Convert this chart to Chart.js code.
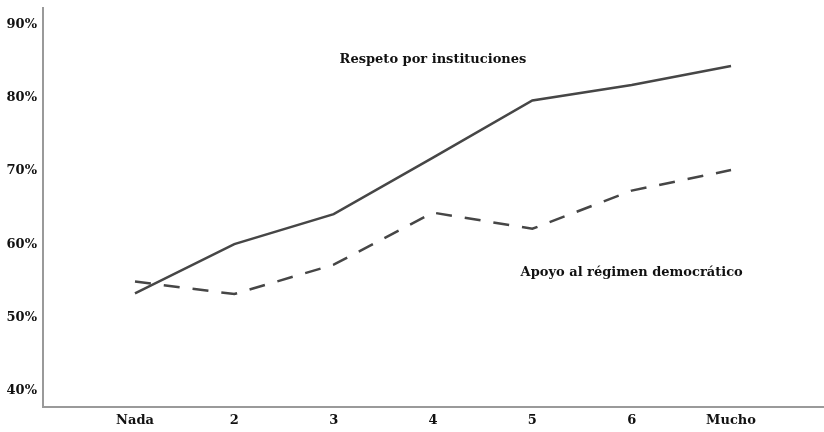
<!DOCTYPE html>
<html>
<head>
<meta charset="utf-8">
<script src="https://cdn.jsdelivr.net/npm/chart.js@4/dist/chart.umd.min.js"></script>
<style>
  html, body { margin: 0; padding: 0; background: #fff; }
  #wrap { width: 824px; height: 432px; position: relative; }
</style>
</head>
<body>
<div id="wrap"><canvas id="myChart"></canvas></div>
<script>
const ctx = document.getElementById('myChart').getContext('2d');

// Categories on the x-axis
const labels = ['Nada', '2', '3', '4', '5', '6', 'Mucho'];

// Percent values
const respeto = [53.3, 60.0, 64.1, 71.8, 79.6, 81.7, 84.3];
const apoyo = [54.9, 53.2, 57.2, 64.3, 62.1, 67.3, 70.1];

// Y tick labels
const yTicks = [40, 50, 60, 70, 80, 90];

const serif = '"DejaVu Serif", serif';
const lineColor = '#464646';

// Text labels next to the lines, placed in data units
const notes = [
    { text: 'Respeto por instituciones', x: 3.0, y: 85.2 },
    { text: 'Apoyo al régimen democrático', x: 5.0, y: 56.1 }
];

const notePlugin = {
    id: 'notes',
    afterDatasetsDraw(chart) {
        const c = chart.ctx;
        const xs = chart.scales.x, ys = chart.scales.y;
        c.save();
        c.font = 'bold 13px ' + serif;
        c.fillStyle = '#111';
        c.textAlign = 'center';
        c.textBaseline = 'middle';
        notes.forEach(n => c.fillText(n.text, xs.getPixelForValue(n.x), ys.getPixelForValue(n.y)));
        c.restore();
    }
};

const data = {
    datasets: [{
        label: 'Respeto por instituciones',
        data: respeto.map((v, i) => ({ x: i, y: v })),
        borderColor: lineColor,
        borderWidth: 2.5,
        pointRadius: 0,
        fill: false,
        tension: 0
    }, {
        label: 'Apoyo al régimen democrático',
        data: apoyo.map((v, i) => ({ x: i, y: v })),
        borderColor: lineColor,
        borderWidth: 2.5,
        borderDash: [16, 13],
        pointRadius: 0,
        fill: false,
        tension: 0
    }]
};

const options = {
    responsive: true,
    maintainAspectRatio: false,
    animation: false,
    layout: { padding: { top: 8, right: 0, left: 0, bottom: 0 } },
    plugins: {
        legend: { display: false },
        tooltip: { enabled: false }
    },
    scales: {
        x: {
            type: 'linear',
            min: -0.926,
            max: 6.936,
            grid: { display: false, drawTicks: false },
            border: { display: true, color: '#9a9a9a', width: 2 },
            afterBuildTicks: s => { s.ticks = labels.map((_, i) => ({ value: i })); },
            afterFit: s => { s.height = 25; s.paddingLeft = 0; s.paddingRight = 0; },
            ticks: {
                callback: v => labels[v],
                color: '#111',
                font: { family: serif, size: 13, weight: 'bold' },
                padding: 6,
                maxRotation: 0
            }
        },
        y: {
            min: 37.8,
            max: 92.2,
            grid: { display: false, drawTicks: false },
            border: { display: true, color: '#9a9a9a', width: 2 },
            afterBuildTicks: s => { s.ticks = yTicks.map(v => ({ value: v })); },
            afterFit: s => { s.width = 43; s.paddingTop = 0; s.paddingBottom = 0; },
            ticks: {
                callback: v => v + '%',
                color: '#111',
                font: { family: serif, size: 13, weight: 'bold' },
                padding: 6
            }
        }
    }
};

const myChart = new Chart(ctx, {
    type: 'line',
    data: data,
    options: options,
    plugins: [notePlugin]
});
</script>
</body>
</html>
